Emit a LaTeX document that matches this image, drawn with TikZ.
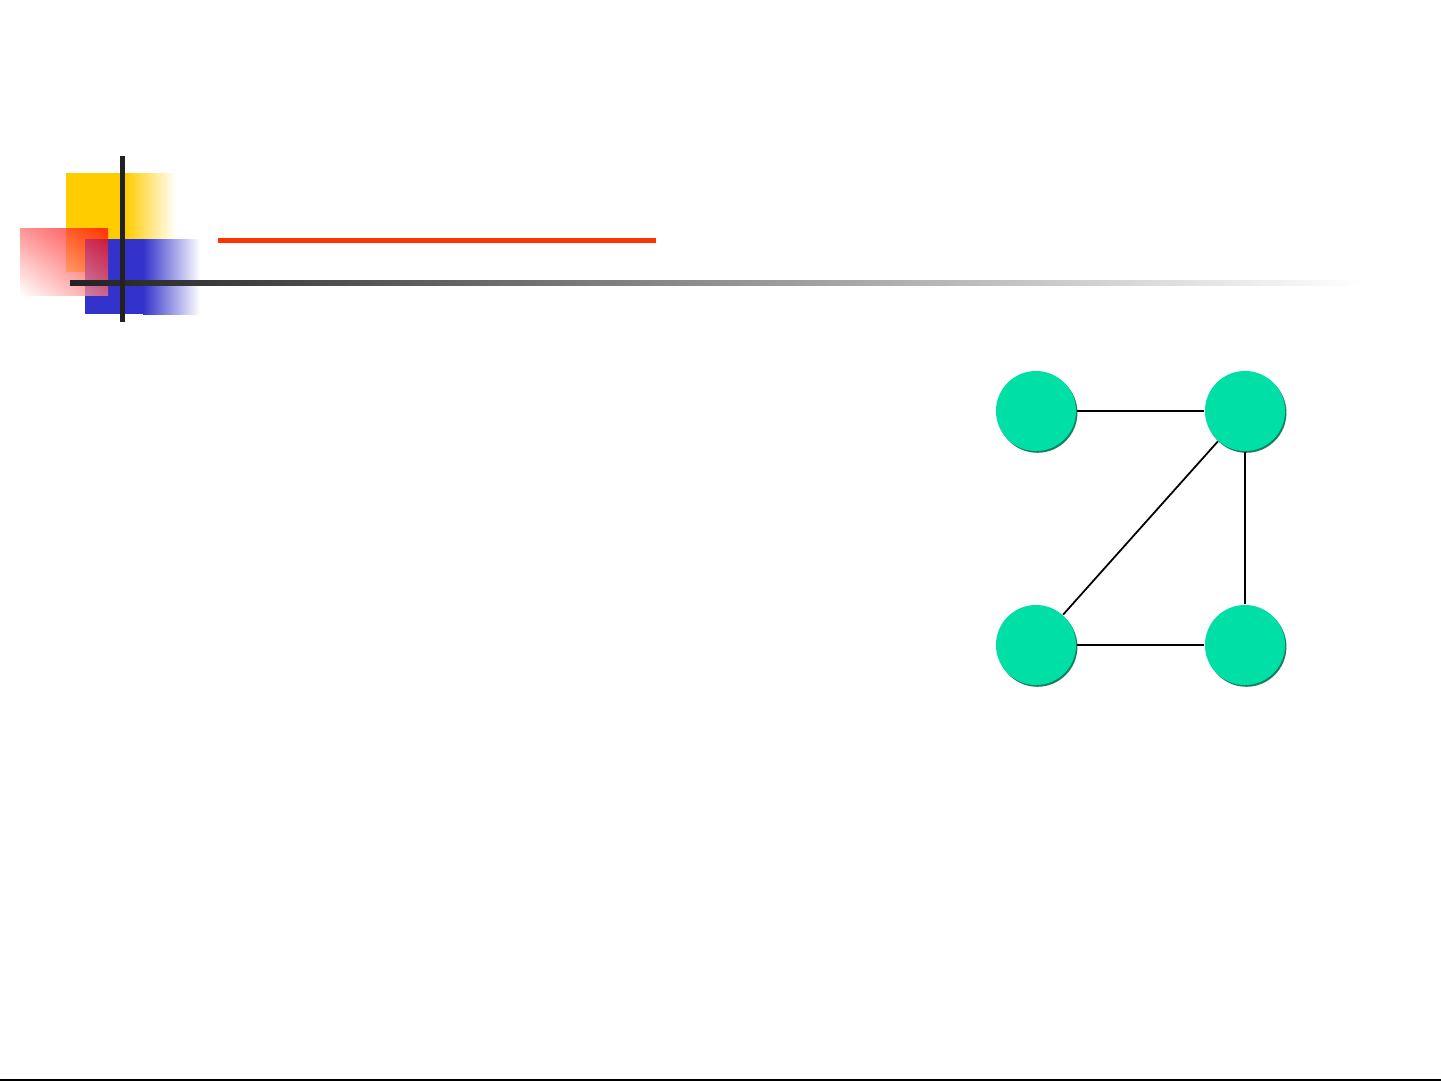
\documentclass[tikz,border=0pt]{standalone}
\usepackage{xcolor}
\usepackage{tikz}
\usetikzlibrary{calc, positioning, shadows, shadings}

\definecolor{nodegreen}{RGB}{0,224,166}
\definecolor{shadegreen}{RGB}{20,130,95}
\definecolor{barred}{RGB}{255,51,0}
\definecolor{boxyellow}{RGB}{255,204,0}
\definecolor{boxblue}{RGB}{51,51,204}
\definecolor{bardark}{RGB}{34,34,34}

\begin{document}
\begin{tikzpicture}[x=0.01cm,y=-0.01cm,-,
                    main node/.style={circle,fill=nodegreen,minimum size=0.8cm,inner sep=0pt,
                      general shadow={fill=shadegreen,shadow xshift=0.4pt,shadow yshift=-0.5pt}},
                    edge line/.style={draw=black,line width=0.5pt}]

 \useasboundingbox[fill=white] (0,0) rectangle (1441,1081);

 % corner blocks
 \fill[boxyellow] (66,173) rectangle (126,272);
 \shade[left color=boxyellow,right color=white] (125,173) rectangle (176,272);
 \fill[boxblue] (85,239) rectangle (144,314);
 \shade[left color=boxblue,right color=white] (143,239) rectangle (200,314);
 \shade[upper right=red,lower left=white,upper left=red!55!white,lower right=red!55!white,fill opacity=0.75] (20,228) rectangle (108,295);

 % bars
 \fill[barred] (218,238) rectangle (656,243);
 \shade[left color=bardark,right color=white] (70,280.5) rectangle (1362,285.5);
 \fill[bardark] (120,156) rectangle (125,322);
 \draw[line width=0.8pt] (0,1080) -- (1441,1080);

 % graph
 \node[main node] (1) at (1036,411) {};
 \node[main node] (2) at (1245,411) {};
 \node[main node] (3) at (1036,645) {};
 \node[main node] (4) at (1245,645) {};

 \path[edge line]
    (1) edge (2)
    (2) edge (3)
    (2) edge[line width=0.4pt] (4)
    (3) edge (4);

\end{tikzpicture}
\end{document}
